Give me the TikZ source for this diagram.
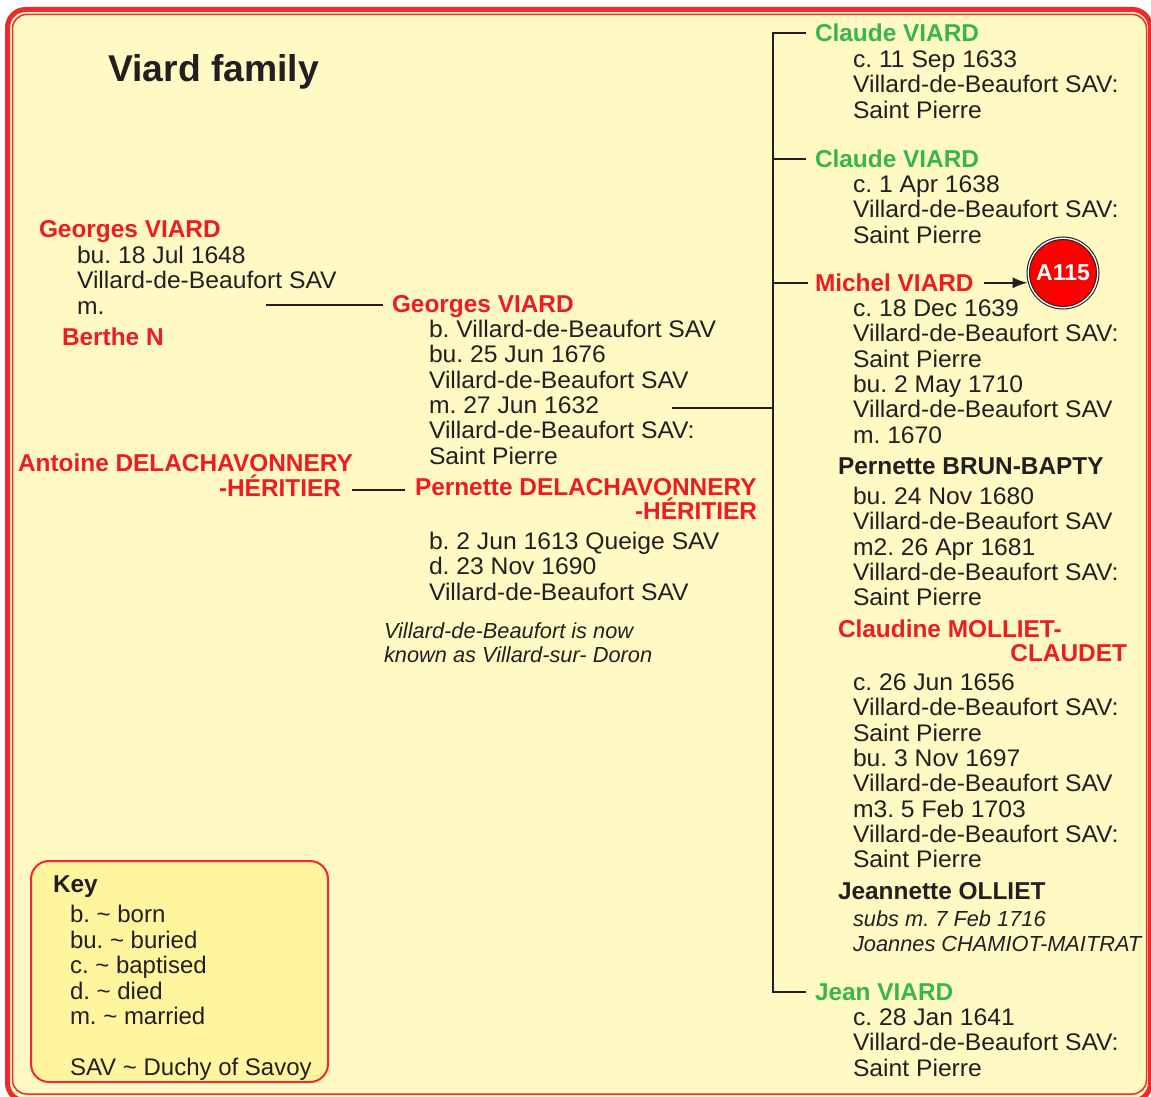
\documentclass[tikz,border=0pt]{standalone}
\usepackage{fontspec}
\setmainfont{Liberation Sans}
\newfontfamily\detfont{Liberation Sans}[FakeStretch=1.028]
\usetikzlibrary{arrows.meta}
\definecolor{nred}{HTML}{ED1C24}
\definecolor{ngreen}{HTML}{39B54A}
\definecolor{ink}{HTML}{231F20}
\definecolor{cream}{HTML}{FFF9C4}
\definecolor{keyfill}{HTML}{FFF59E}
\definecolor{framered}{HTML}{EE2A2E}
\newcommand\blk[1]{\begin{tabular}[t]{@{}l@{}}#1\end{tabular}}
\frenchspacing
\begin{document}
\begin{tikzpicture}[x=1pt,y=-1pt,
  txt/.style={anchor=base west, inner sep=0pt, outer sep=0pt, text=ink, font=\detfont\fontsize{24}{25.3}\selectfont},
  nm/.style={anchor=base west, inner sep=0pt, outer sep=0pt, font=\bfseries\fontsize{24.4}{25.3}\selectfont},
  rednm/.style={nm, text=nred},
  grnnm/.style={nm, text=ngreen},
  blknm/.style={nm, text=ink},
  notetxt/.style={txt, font=\itshape\fontsize{21.8}{24.5}\selectfont},
  keytxt/.style={txt, font=\fontsize{24}{25.5}\selectfont},
  link/.style={draw=ink, line width=2.2pt},
]
\useasboundingbox (0,0) rectangle (1151,1097);
\fill[white] (0,0) rectangle (1151,1097);
% frame
\draw[framered, line width=5pt, fill=cream, rounded corners=18pt] (7.5,9.5) rectangle (1150.5,1101);
\draw[framered, line width=1.5pt, rounded corners=14pt] (12.5,14.5) rectangle (1146.5,1094);

% title
\node[anchor=base west, inner sep=0pt, font=\bfseries\fontsize{37.3}{40}\selectfont, text=ink] (title) at (108,82) {Viard family};

% left generation
\node[rednm] (gv1) at (39,237.5) {Georges VIARD};
\node[txt] (gv1d) at (77,263.5) {\blk{bu. 18 Jul 1648\\Villard-de-Beaufort SAV\\m.}};
\node[rednm] (bn) at (62,345.5) {Berthe N};
\node[rednm] (ad1) at (18,471.5) {Antoine DELACHAVONNERY};
\node[rednm, anchor=base east] (ad2) at (341,496.5) {-HÉRITIER};

% middle generation
\node[rednm] (gv2) at (392,312.5) {Georges VIARD};
\node[txt] (gv2d) at (429,337.5) {\blk{b. Villard-de-Beaufort SAV\\bu. 25 Jun 1676\\Villard-de-Beaufort SAV\\m. 27 Jun 1632\\Villard-de-Beaufort SAV:\\Saint Pierre}};
\node[rednm] (pd1) at (415,495.5) {Pernette DELACHAVONNERY};
\node[rednm, anchor=base east] (pd2) at (757,519.5) {-HÉRITIER};
\node[txt] (pdd) at (429,549.5) {\blk{b. 2 Jun 1613 Queige SAV\\d. 23 Nov 1690\\Villard-de-Beaufort SAV}};
\node[notetxt] (note) at (384,638) {\blk{Villard-de-Beaufort is now\\known as Villard-sur- Doron}};

% children
\node[grnnm] (cl1) at (815,41.5) {Claude VIARD};
\node[txt] (cl1d) at (853,67.5) {\blk{c. 11 Sep 1633\\Villard-de-Beaufort SAV:\\Saint Pierre}};
\node[grnnm] (cl2) at (815,167.5) {Claude VIARD};
\node[txt] (cl2d) at (853,192.5) {\blk{c. 1 Apr 1638\\Villard-de-Beaufort SAV:\\Saint Pierre}};
\node[rednm] (mich) at (815,291.5) {Michel VIARD};
\node[txt] (michd) at (853,316.5) {\blk{c. 18 Dec 1639\\Villard-de-Beaufort SAV:\\Saint Pierre\\bu. 2 May 1710\\Villard-de-Beaufort SAV\\m. 1670}};
\node[blknm] (pbb) at (838,474.5) {Pernette BRUN-BAPTY};
\node[txt] (pbbd) at (853,504.5) {\blk{bu. 24 Nov 1680\\Villard-de-Beaufort SAV\\m2. 26 Apr 1681\\Villard-de-Beaufort SAV:\\Saint Pierre}};
\node[rednm] (cm1) at (838,637.5) {Claudine MOLLIET-};
\node[rednm, anchor=base east] (cm2) at (1127,661.5) {CLAUDET};
\node[txt] (cmd) at (853,690.5) {\blk{c. 26 Jun 1656\\Villard-de-Beaufort SAV:\\Saint Pierre\\bu. 3 Nov 1697\\Villard-de-Beaufort SAV\\m3. 5 Feb 1703\\Villard-de-Beaufort SAV:\\Saint Pierre}};
\node[blknm] (jo) at (838,899.5) {Jeannette OLLIET};
\node[notetxt, font=\itshape\fontsize{21.8}{25}\selectfont] (jod) at (853,926) {\blk{subs m. 7 Feb 1716\\Joannes CHAMIOT-MAITRAT}};
\node[grnnm] (jean) at (815,1000.5) {Jean VIARD};
\node[txt] (jeand) at (853,1025.5) {\blk{c. 28 Jan 1641\\Villard-de-Beaufort SAV:\\Saint Pierre}};

% reference circle
\node[circle, fill=red, draw=ink, double=white, double distance=1.3pt, line width=1.1pt,
      minimum size=69.5pt, inner sep=0pt, text=white, font=\bfseries\fontsize{23}{23}\selectfont] (a115) at (1063,273) {A115};

% connectors
\coordinate (gm) at (266,305);
\draw[link] (gm) -- ([xshift=-9pt]gv2.west |- gm);
\coordinate (am) at (352,490);
\draw[link] (am) -- ([xshift=-10pt]pd1.west |- am);
\coordinate (trunk) at (773,408);
\coordinate (mj) at (672,408);
\draw[link] (mj) -- (trunk);
\draw[link] ([xshift=-9pt]cl1.west) -- (cl1.west -| trunk) -- (jean.west -| trunk) -- ([xshift=-9pt]jean.west);
\draw[link] (cl2.west -| trunk) -- ([xshift=-9pt]cl2.west);
\draw[link] (mich.west -| trunk) -- ([xshift=-7pt]mich.west);
\draw[link, -{Latex[length=15pt,width=11pt]}] ([xshift=10pt]mich.east) -- (mich.east -| a115.west);

% key
\node[draw=framered, line width=2pt, fill=keyfill, rounded corners=18pt, minimum width=297pt, minimum height=221pt, anchor=north west, inner sep=0pt] (key) at (30,860) {};
\node[blknm] (keyt) at (53,892.5) {Key};
\node[keytxt] (keyl) at (70,922.5) {\blk{b. \textasciitilde{} born\\bu. \textasciitilde{} buried\\c. \textasciitilde{} baptised\\d. \textasciitilde{} died\\m. \textasciitilde{} married}};
\node[keytxt] (keys) at (70,1075.5) {SAV \textasciitilde{} Duchy of Savoy};
\end{tikzpicture}
\end{document}
